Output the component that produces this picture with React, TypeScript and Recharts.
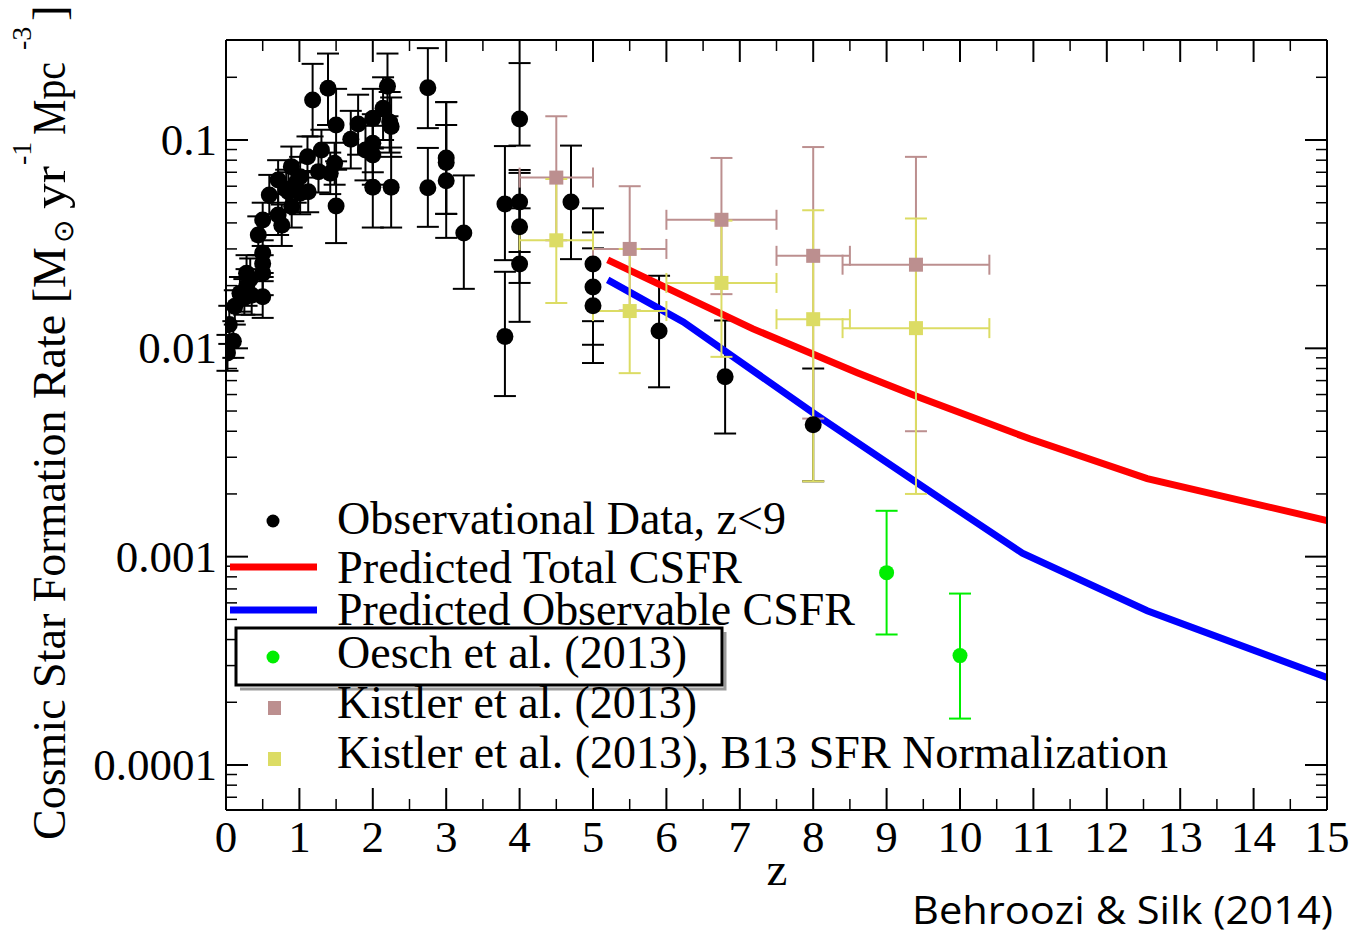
import React from 'react';
import { ComposedChart, XAxis, YAxis, Scatter, Line, ErrorBar } from 'recharts';

// ---------- data ----------
const obsZ = [0.02, 0.045, 0.1, 0.12, 0.19, 0.25, 0.28, 0.28, 0.33, 0.35, 0.44, 0.5, 0.5, 0.5, 0.5, 0.5, 0.59, 0.71, 0.71, 0.76, 0.82, 0.85, 0.89, 0.895, 0.95, 1.01, 1.01, 1.11, 1.12, 1.18, 1.26, 1.3, 1.39, 1.42, 1.48, 1.5, 1.5, 1.7, 1.8, 1.9, 2.0, 2.0, 2.0, 2.0, 2.14, 2.2, 2.23, 2.25, 2.25, 2.75, 2.75, 3.0, 3.0, 3.0, 3.24, 3.8, 3.8, 4.0, 4.0, 4.0, 4.0, 4.7, 5.0, 5.0, 5.0, 5.9, 6.8, 8.0];
const obsV = [0.0095, 0.013, 0.0108, 0.0159, 0.0184, 0.0175, 0.0198, 0.0229, 0.0215, 0.018, 0.035, 0.0177, 0.0229, 0.0255, 0.0287, 0.0413, 0.0545, 0.0643, 0.0437, 0.039, 0.058, 0.0564, 0.0745, 0.0479, 0.062, 0.0667, 0.0555, 0.0831, 0.0564, 0.1555, 0.0705, 0.0895, 0.177, 0.0692, 0.0773, 0.118, 0.0482, 0.1008, 0.1192, 0.0895, 0.127, 0.0965, 0.0847, 0.0594, 0.142, 0.181, 0.122, 0.116, 0.0594, 0.178, 0.059, 0.082, 0.078, 0.0637, 0.0358, 0.0493, 0.0114, 0.126, 0.0504, 0.0383, 0.0254, 0.0504, 0.0254, 0.0197, 0.016, 0.0121, 0.0073, 0.0043];
const obsLo = [0.0078, 0.0105, 0.009, 0.013, 0.015, 0.0145, 0.016, 0.0185, 0.017, 0.0145, 0.028, 0.014, 0.018, 0.021, 0.023, 0.033, 0.044, 0.05, 0.035, 0.031, 0.046, 0.045, 0.06, 0.038, 0.05, 0.053, 0.044, 0.066, 0.045, 0.104, 0.056, 0.071, 0.118, 0.055, 0.061, 0.079, 0.032, 0.073, 0.085, 0.064, 0.091, 0.07, 0.061, 0.038, 0.1, 0.13, 0.087, 0.083, 0.038, 0.114, 0.0383, 0.0442, 0.0442, 0.0339, 0.0193, 0.0265, 0.0059, 0.094, 0.029, 0.0206, 0.0134, 0.0268, 0.0135, 0.0104, 0.0085, 0.0065, 0.0039, 0.0023];
const obsHi = [0.0116, 0.016, 0.0135, 0.019, 0.022, 0.0215, 0.024, 0.028, 0.027, 0.022, 0.043, 0.022, 0.028, 0.031, 0.035, 0.05, 0.068, 0.08, 0.055, 0.049, 0.072, 0.07, 0.093, 0.06, 0.078, 0.083, 0.07, 0.104, 0.071, 0.232, 0.088, 0.112, 0.26, 0.087, 0.097, 0.176, 0.072, 0.138, 0.165, 0.125, 0.176, 0.133, 0.117, 0.092, 0.2, 0.26, 0.17, 0.16, 0.092, 0.276, 0.0916, 0.152, 0.152, 0.118, 0.0676, 0.0935, 0.0233, 0.234, 0.0718, 0.0695, 0.047, 0.094, 0.047, 0.036, 0.0302, 0.0223, 0.0136, 0.008];

const totalZ = [5.2, 7.18, 8.6, 9.45, 10.95, 12.55, 15];
const totalV = [0.0266, 0.0124, 0.00763, 0.0058, 0.00368, 0.00237, 0.00149];

const observableZ = [5.2, 6.23, 8.0, 9.96, 10.85, 12.55, 15];
const observableV = [0.0213, 0.0134, 0.0049, 0.00168, 0.00104, 0.00055, 0.000263];

const oeschZ = [9, 10];
const oeschV = [0.000838, 0.000335];
const oeschLo = [0.000423, 0.000167];
const oeschHi = [0.00166, 0.000665];

const kistZ = [4.5, 5.5, 6.75, 8.0, 9.4];
const kistZLo = [4.0, 5.0, 6.0, 7.5, 8.4];
const kistZHi = [5.0, 6.0, 7.5, 8.5, 10.4];
const kistV = [0.066, 0.03, 0.0414, 0.0278, 0.0252];
const kistLo = [0.033, 0.0152, 0.0182, 0.0046, 0.004];
const kistHi = [0.13, 0.06, 0.082, 0.0925, 0.083];
const kistB13V = [0.033, 0.0151, 0.0206, 0.0138, 0.0125];
const kistB13Lo = [0.0165, 0.0076, 0.0091, 0.0023, 0.002];
const kistB13Hi = [0.065, 0.03, 0.041, 0.046, 0.042];

const xTicks = [0, 0.5, 1, 1.5, 2, 2.5, 3, 3.5, 4, 4.5, 5, 5.5, 6, 6.5, 7, 7.5, 8, 8.5, 9, 9.5, 10, 10.5, 11, 11.5, 12, 12.5, 13, 13.5, 14, 14.5, 15];
const yMajor = [0.0001, 0.001, 0.01, 0.1];
const yMinor = [0.00007, 0.00008, 0.00009, 0.0002, 0.0003, 0.0004, 0.0005, 0.0006, 0.0007, 0.0008, 0.0009, 0.002, 0.003, 0.004, 0.005, 0.006, 0.007, 0.008, 0.009, 0.02, 0.03, 0.04, 0.05, 0.06, 0.07, 0.08, 0.09, 0.2];
const yTicks = [...yMajor, ...yMinor].sort((a, b) => a - b);

// ---------- built tables ----------
const obsData = obsZ.map((z, i) => ({ z, v: obsV[i], ey: [obsV[i] - obsLo[i], obsHi[i] - obsV[i]] }));
const totalData = totalZ.map((z, i) => ({ z, v: totalV[i] }));
const observableData = observableZ.map((z, i) => ({ z, v: observableV[i] }));
const oeschData = oeschZ.map((z, i) => ({ z, v: oeschV[i], ey: [oeschV[i] - oeschLo[i], oeschHi[i] - oeschV[i]] }));
const kistData = kistZ.map((z, i) => ({ z, v: kistV[i], ey: [kistV[i] - kistLo[i], kistHi[i] - kistV[i]], ex: [z - kistZLo[i], kistZHi[i] - z] }));
const kistB13Data = kistZ.map((z, i) => ({ z, v: kistB13V[i], ey: [kistB13V[i] - kistB13Lo[i], kistB13Hi[i] - kistB13V[i]], ex: [z - kistZLo[i], kistZHi[i] - z] }));

const SERIF = '"Liberation Serif", "Times New Roman", Times, serif';
const BROWN = '#BC8F8F';
const YELLOW = '#DCDC64';
const GREEN = '#00EE00';

const isMajorY = (v: number) => yMajor.some((m) => Math.abs(m - v) / m < 1e-6);

const BottomTick = (p: any) => {
  const v = p.payload.value;
  const major = Number.isInteger(v);
  return (
    <g>
      <line x1={p.x} x2={p.x} y1={p.y} y2={p.y - (major ? 22 : 11)} stroke="#000" strokeWidth={major ? 2 : 1.5} />
      {major && (
        <text x={p.x} y={p.y + 42} textAnchor="middle" fontFamily={SERIF} fontSize={45} fill="#000">{v}</text>
      )}
    </g>
  );
};
const TopTick = (p: any) => {
  const v = p.payload.value;
  const major = Number.isInteger(v);
  return <line x1={p.x} x2={p.x} y1={p.y} y2={p.y + (major ? 22 : 11)} stroke="#000" strokeWidth={major ? 2 : 1.5} />;
};
const LeftTick = (p: any) => {
  const v = p.payload.value;
  const major = isMajorY(v);
  return (
    <g>
      <line x1={p.x} x2={p.x + (major ? 22 : 11)} y1={p.y} y2={p.y} stroke="#000" strokeWidth={major ? 2 : 1.5} />
      {major && (
        <text x={p.x - 9} y={p.y + 15} textAnchor="end" fontFamily={SERIF} fontSize={45} fill="#000">{String(v)}</text>
      )}
    </g>
  );
};
const RightTick = (p: any) => {
  const v = p.payload.value;
  const major = isMajorY(v);
  return <line x1={p.x} x2={p.x - (major ? 22 : 11)} y1={p.y} y2={p.y} stroke="#000" strokeWidth={major ? 2 : 1.5} />;
};

const Dot = (color: string, r: number) => (p: any) => <circle cx={p.cx} cy={p.cy} r={r} fill={color} />;
const Sq = (color: string, s: number) => (p: any) => <rect x={p.cx - s / 2} y={p.cy - s / 2} width={s} height={s} fill={color} />;

const W = 1353;
const H = 936;

export default function App() {
  return (
    <div style={{ position: 'absolute', left: 0, top: 0, width: W, height: H, background: '#fff' }}>
      <ComposedChart width={W} height={H} margin={{ top: 39, right: 25, bottom: 125, left: 225 }}>
        <XAxis xAxisId="b" dataKey="z" type="number" domain={[0, 15]} ticks={xTicks} interval={0} orientation="bottom" height={1}
          allowDataOverflow axisLine={{ stroke: '#000', strokeWidth: 2 }} tickLine={false} tickSize={0} tickMargin={0} tick={<BottomTick />} />
        <XAxis xAxisId="t" dataKey="z" type="number" domain={[0, 15]} ticks={xTicks} interval={0} orientation="top" height={1}
          allowDataOverflow axisLine={{ stroke: '#000', strokeWidth: 2 }} tickLine={false} tickSize={0} tickMargin={0} tick={<TopTick />} />
        <YAxis yAxisId="l" dataKey="v" type="number" scale="log" domain={[0.0000608, 0.302]} ticks={yTicks} interval={0} orientation="left" width={1}
          allowDataOverflow axisLine={{ stroke: '#000', strokeWidth: 2 }} tickLine={false} tickSize={0} tickMargin={0} tick={<LeftTick />} />
        <YAxis yAxisId="r" dataKey="v" type="number" scale="log" domain={[0.0000608, 0.302]} ticks={yTicks} interval={0} orientation="right" width={1}
          allowDataOverflow axisLine={{ stroke: '#000', strokeWidth: 2 }} tickLine={false} tickSize={0} tickMargin={0} tick={<RightTick />} />

        <Scatter xAxisId="b" yAxisId="l" data={obsData} dataKey="v" isAnimationActive={false} shape={Dot('#000', 8.5)}>
          <ErrorBar dataKey="ey" direction="y" width={11} stroke="#000" strokeWidth={2} isAnimationActive={false} />
        </Scatter>
        <Line xAxisId="b" yAxisId="l" data={totalData} dataKey="v" type="linear" stroke="#FF0000" strokeWidth={7} dot={false} isAnimationActive={false} />
        <Line xAxisId="b" yAxisId="l" data={observableData} dataKey="v" type="linear" stroke="#0000FF" strokeWidth={7} dot={false} isAnimationActive={false} />
        <Scatter xAxisId="b" yAxisId="l" data={oeschData} dataKey="v" isAnimationActive={false} shape={Dot(GREEN, 7.5)}>
          <ErrorBar dataKey="ey" direction="y" width={11} stroke={GREEN} strokeWidth={2} isAnimationActive={false} />
        </Scatter>
        <Scatter xAxisId="b" yAxisId="l" data={kistData} dataKey="v" isAnimationActive={false} shape={Sq(BROWN, 14)}>
          <ErrorBar dataKey="ey" direction="y" width={11} stroke={BROWN} strokeWidth={2} isAnimationActive={false} />
          <ErrorBar dataKey="ex" direction="x" width={10} stroke={BROWN} strokeWidth={2} isAnimationActive={false} />
        </Scatter>
        <Scatter xAxisId="b" yAxisId="l" data={kistB13Data} dataKey="v" isAnimationActive={false} shape={Sq(YELLOW, 14)}>
          <ErrorBar dataKey="ey" direction="y" width={11} stroke={YELLOW} strokeWidth={2} isAnimationActive={false} />
          <ErrorBar dataKey="ex" direction="x" width={10} stroke={YELLOW} strokeWidth={2} isAnimationActive={false} />
        </Scatter>
      </ComposedChart>

      <svg width={W} height={H} style={{ position: 'absolute', left: 0, top: 0, pointerEvents: 'none' }}>
        {/* legend */}
        <g fontFamily={SERIF} fontSize={46} fill="#000">
          <circle cx={273} cy={521} r={6.5} fill="#000" />
          <text x={337} y={534} textLength={449} lengthAdjust="spacingAndGlyphs">Observational Data, z&lt;9</text>
          <line x1={230} x2={317} y1={567} y2={567} stroke="#FF0000" strokeWidth={7} />
          <text x={337} y={583} textLength={405} lengthAdjust="spacingAndGlyphs">Predicted Total CSFR</text>
          <line x1={230} x2={317} y1={610} y2={610} stroke="#0000FF" strokeWidth={7} />
          <text x={337} y={625} textLength={518} lengthAdjust="spacingAndGlyphs">Predicted Observable CSFR</text>
          <polyline points="725,632 725,689 240,689" fill="none" stroke="#999" strokeWidth={3} />
          <rect x={236} y={628} width={486} height={57} fill="none" stroke="#000" strokeWidth={3} />
          <circle cx={273} cy={657} r={6.5} fill={GREEN} />
          <text x={337} y={668} textLength={350} lengthAdjust="spacingAndGlyphs">Oesch et al. (2013)</text>
          <rect x={268} y={701} width={13} height={14} fill={BROWN} />
          <text x={337} y={718} textLength={360} lengthAdjust="spacingAndGlyphs">Kistler et al. (2013)</text>
          <rect x={268} y={752} width={13} height={14} fill={YELLOW} />
          <text x={337} y={768} textLength={831} lengthAdjust="spacingAndGlyphs">Kistler et al. (2013), B13 SFR Normalization</text>
        </g>
        {/* x title */}
        <text x={777} y={885} textAnchor="middle" fontFamily={SERIF} fontSize={47}>z</text>
        {/* y title */}
        <g transform="rotate(-90)" fontFamily={SERIF} fill="#000">
          <text x={-840} y={65} fontSize={47} textLength={593} lengthAdjust="spacingAndGlyphs">Cosmic Star Formation Rate [M</text>
          <text x={-243} y={73} fontSize={28}>⊙</text>
          <text x={-209} y={65} fontSize={47} textLength={43} lengthAdjust="spacingAndGlyphs">yr</text>
          <text x={-165} y={31} fontSize={28}>-1</text>
          <text x={-135} y={65} fontSize={47} textLength={73} lengthAdjust="spacingAndGlyphs">Mpc</text>
          <text x={-50} y={31} fontSize={28}>-3</text>
          <text x={-21} y={65} fontSize={47}>]</text>
        </g>
        {/* credit */}
        <text x={1333} y={924} textAnchor="end" fontFamily='"Open Sans", "Liberation Sans", sans-serif' fontSize={38} textLength={421} lengthAdjust="spacingAndGlyphs">Behroozi &amp; Silk (2014)</text>
      </svg>
    </div>
  );
}
